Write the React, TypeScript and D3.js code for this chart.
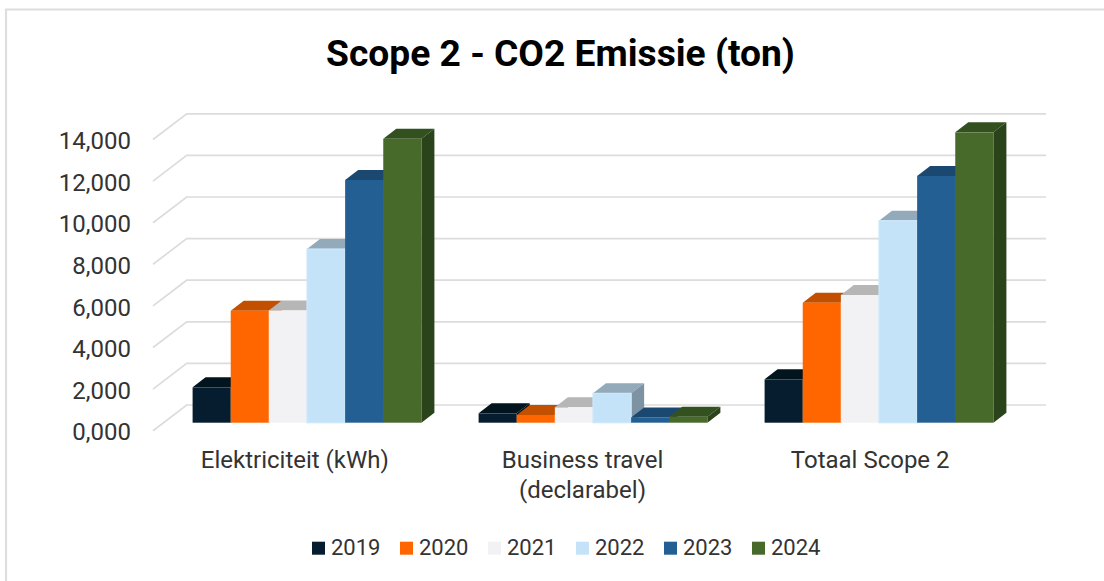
import { useEffect, useRef } from "react";
import * as d3 from "d3";

const categories = ["Elektriciteit (kWh)", "Business travel\n(declarabel)", "Totaal Scope 2"];
const years = ["2019", "2020", "2021", "2022", "2023", "2024"];
const elektriciteit = [1700, 5385, 5400, 8350, 11670, 13650];
const businessTravel = [450, 370, 740, 1410, 255, 290];
const totaal = [2085, 5770, 6140, 9710, 11860, 13960];
const seriesByCategory = [elektriciteit, businessTravel, totaal];
const tickValues = [0, 2000, 4000, 6000, 8000, 10000, 12000, 14000];
const tickLabels = ["0,000", "2,000", "4,000", "6,000", "8,000", "10,000", "12,000", "14,000"];

const FRONT = ["#051d2e", "#ff6600", "#f2f2f4", "#c5e3f8", "#235f92", "#47692a"];
const TOP = ["#02151f", "#c25000", "#b6b6b7", "#93aabb", "#1b4871", "#33511f"];
const SIDE = ["#011019", "#a84500", "#9c9c9d", "#7d92a2", "#163b5e", "#2b431a"];

const FONT = "Roboto, sans-serif";

export default function App() {
  const svgRef = useRef<SVGSVGElement>(null);

  useEffect(() => {
    if (!svgRef.current) return;
    const svg = d3.select(svgRef.current);
    svg.selectAll("*").remove();

    // floor depth of the 3d box, and how far the bars sit into it
    const wallDx = 33.7;
    const wallDy = -25.7;
    const barDx = 13;
    const barDy = -10;
    const barInsetX = 11;
    const barInsetY = -8;

    const y = d3.scaleLinear().domain([0, 14000]).range([430.7, 139.5]);
    const x0 = d3.scaleBand<number>().domain([0, 1, 2]).range([153, 1011]).paddingInner(0.2).paddingOuter(0.1);
    const x1 = d3.scaleBand<string>().domain(years).range([0, x0.bandwidth()]);

    // frame
    svg
      .append("path")
      .attr("d", "M6,581V9.5H1104")
      .attr("fill", "none")
      .attr("stroke", "#dedede")
      .attr("stroke-width", 2.2);

    svg
      .append("text")
      .attr("x", 560.5)
      .attr("y", 66)
      .attr("text-anchor", "middle")
      .attr("font-family", FONT)
      .attr("font-weight", 700)
      .attr("font-size", 37.2)
      .attr("fill", "#000")
      .text("Scope 2 - CO2 Emissie (ton)");

    // gridlines on wall and side
    const grid = svg.append("g").attr("fill", "none").attr("stroke", "#dcdcdc").attr("stroke-width", 1.7);
    tickValues.forEach((v) => {
      const line = d3.line()([
        [153, y(v)],
        [153 + wallDx, y(v) + wallDy],
        [1046, y(v) + wallDy],
      ]);
      grid.append("path").attr("d", line);
    });

    // y axis labels
    const axis = d3
      .axisLeft(y)
      .tickValues(tickValues)
      .tickSize(0)
      .tickPadding(0)
      .tickFormat((_, i) => tickLabels[i]);
    const axisG = svg.append("g").attr("transform", "translate(131,1.5)").call(axis);
    axisG.select(".domain").remove();
    axisG
      .selectAll("text")
      .attr("font-family", FONT)
      .attr("font-size", 24)
      .attr("fill", "#333");

    // bars, left to right so each front covers the previous side face
    categories.forEach((_, c) => {
      const left = x0(c) as number;
      seriesByCategory[c].forEach((v, i) => {
        const xl = left + barInsetX + (x1(years[i]) as number);
        const xr = xl + x1.bandwidth();
        const yt = y(v) + barInsetY;
        const yb = y(0) + barInsetY;
        const g = svg.append("g");
        g.append("path")
          .attr("d", `M${xl},${yt}L${xl + barDx},${yt + barDy}H${xr + barDx}L${xr},${yt}Z`)
          .attr("fill", TOP[i]);
        g.append("path")
          .attr("d", `M${xr},${yt}L${xr + barDx},${yt + barDy}V${yb + barDy}L${xr},${yb}Z`)
          .attr("fill", SIDE[i]);
        g.append("rect")
          .attr("x", xl)
          .attr("y", yt)
          .attr("width", x1.bandwidth())
          .attr("height", yb - yt)
          .attr("fill", FRONT[i])
          .attr("stroke", i === 3 ? "#cde8fb" : "none")
          .attr("stroke-width", 1.2);
      });
    });

    // category labels
    const xc = d3.scaleBand<number>().domain([0, 1, 2]).range([151, 1014]);
    categories.forEach((name, c) => {
      const t = svg
        .append("text")
        .attr("text-anchor", "middle")
        .attr("font-family", FONT)
        .attr("font-size", 24)
        .attr("fill", "#333");
      name.split("\n").forEach((part, k) => {
        t.append("tspan")
          .attr("x", (xc(c) as number) + xc.bandwidth() / 2)
          .attr("y", 468 + k * 30)
          .text(part);
      });
    });

    // legend
    const lx = d3.scaleBand<string>().domain(years).range([312, 840]);
    years.forEach((yr, i) => {
      svg
        .append("rect")
        .attr("x", lx(yr) as number)
        .attr("y", 541.7)
        .attr("width", 13)
        .attr("height", 13)
        .attr("fill", FRONT[i]);
      svg
        .append("text")
        .attr("x", (lx(yr) as number) + 19)
        .attr("y", 554.5)
        .attr("font-family", FONT)
        .attr("font-size", 22)
        .attr("fill", "#333")
        .text(yr);
    });
  }, []);

  return (
    <svg
      ref={svgRef}
      width={1104}
      height={581}
      style={{ position: "absolute", left: 0, top: 0, background: "#fff" }}
      role="img"
      aria-label="Scope 2 CO2 emissie per categorie en jaar"
    />
  );
}
